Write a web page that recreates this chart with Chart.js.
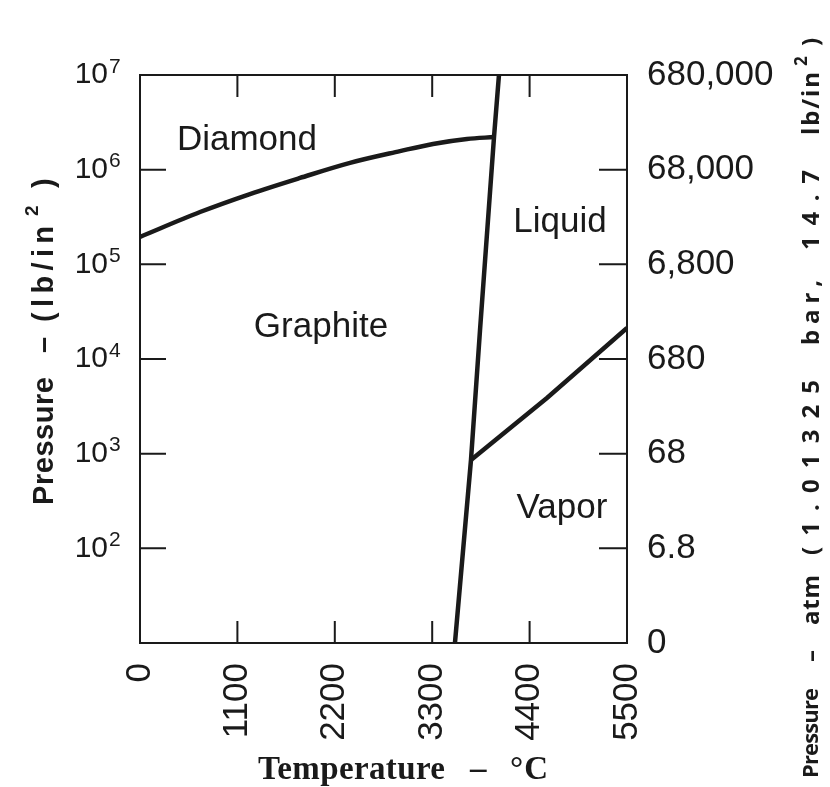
<!DOCTYPE html>
<html>
<head>
<meta charset="utf-8">
<script src="https://cdn.jsdelivr.net/npm/chart.js@4.4.1/dist/chart.umd.min.js"></script>
<style>
  html, body { margin: 0; background: #fff; }
  canvas { display: block; }
</style>
</head>
<body>
<canvas id="myChart" width="830" height="787"></canvas>
<script>
// axis ticks
const tempTicks = [0, 1100, 2200, 3300, 4400, 5500];
const psiTicks = [10, 100, 1000, 10000, 100000, 1000000, 10000000];
const psiExponents = ["", "2", "3", "4", "5", "6", "7"];
const atmLabels = ["0", "6.8", "68", "680", "6,800", "68,000", "680,000"];

// diamond / graphite boundary (°C, lb/in²)
const diamondT = [0, 678, 1242, 1807, 2372, 2936, 3309, 3693, 3998];
const diamondP = [1.95e5, 3.57e5, 5.53e5, 8.17e5, 1.18e6, 1.57e6, 1.87e6, 2.11e6, 2.21e6];

// graphite / liquid melting line
const meltT = [3557, 3738, 3840, 3998, 4054];
const meltP = [10, 857, 2.02e4, 2.21e6, 1e7];

// liquid / vapor line
const vaporT = [3738, 4596, 5500];
const vaporP = [857, 3.87e3, 2.13e4];

// phase region names
const regionNames = ["Diamond", "Graphite", "Liquid", "Vapor"];
const regionT = [1208, 2044, 4743, 4766];
const regionP = [2.06e6, 2.18e4, 2.8e5, 267];

const ink = "#1a1a1a";
const sans = '"Liberation Sans", Arial, sans-serif';

function toPoints(xs, ys) {
  return xs.map((x, i) => ({ x, y: ys[i] }));
}

// lay a piece of text between two pixel positions by stretching its letter spacing
function spreadText(ctx, text, from, to, across, vertical) {
  ctx.letterSpacing = "0px";
  const natural = ctx.measureText(text).width;
  const n = text.length;
  const spacing = n > 1 ? (Math.abs(to - from) - natural) / (n - 1) : 0;
  ctx.save();
  ctx.letterSpacing = spacing + "px";
  ctx.textAlign = "left";
  ctx.textBaseline = "middle";
  if (vertical) {
    ctx.translate(across, from);
    ctx.rotate(-Math.PI / 2);
    ctx.fillText(text, 0, 0);
  } else {
    ctx.fillText(text, from, across);
  }
  ctx.restore();
  ctx.letterSpacing = "0px";
}

const innerTicks = {
  id: "innerTicks",
  afterDatasetsDraw(chart) {
    const { ctx, chartArea: a, scales: { x, y } } = chart;
    ctx.save();
    ctx.strokeStyle = ink;
    ctx.lineWidth = 2;
    ctx.beginPath();
    tempTicks.slice(1, -1).forEach(t => {
      const px = x.getPixelForValue(t);
      ctx.moveTo(px, a.bottom); ctx.lineTo(px, a.bottom - 22);
      ctx.moveTo(px, a.top); ctx.lineTo(px, a.top + 22);
    });
    psiTicks.slice(1, -1).forEach(p => {
      const py = y.getPixelForValue(p);
      ctx.moveTo(a.left, py); ctx.lineTo(a.left + 26, py);
      ctx.moveTo(a.right, py); ctx.lineTo(a.right - 28, py);
    });
    ctx.stroke();
    ctx.restore();
  }
};

const labelsAndTitles = {
  id: "labelsAndTitles",
  afterDraw(chart) {
    const { ctx, scales: { x, y } } = chart;
    ctx.save();
    ctx.fillStyle = ink;
    ctx.textBaseline = "middle";

    // powers of ten on the left axis
    psiTicks.forEach((p, i) => {
      if (!psiExponents[i]) return;
      const py = y.getPixelForValue(p);
      ctx.font = "30px " + sans;
      ctx.textAlign = "right";
      ctx.fillText("10", 108, py);
      ctx.font = "21px " + sans;
      ctx.textAlign = "left";
      ctx.fillText(psiExponents[i], 109, py - 8);
    });

    ctx.font = "35px " + sans;
    ctx.textAlign = "center";
    regionNames.forEach((name, i) => {
      ctx.fillText(name, x.getPixelForValue(regionT[i]), y.getPixelForValue(regionP[i]));
    });

    ctx.font = "bold 29px " + sans;
    spreadText(ctx, "Pressure", 505, 377, 45, true);
    spreadText(ctx, "–", 353, 337, 45, true);
    spreadText(ctx, "(lb/in", 322, 226, 45, true);
    spreadText(ctx, ")", 188, 176, 45, true);
    ctx.font = "bold 19px " + sans;
    spreadText(ctx, "2", 216, 206, 33, true);

    ctx.font = 'bold 33px "Liberation Serif", "Times New Roman", serif';
    spreadText(ctx, "Temperature", 258, 445, 770, false);
    spreadText(ctx, "–", 470, 488, 770, false);
    spreadText(ctx, "°C", 510, 548, 770, false);

    ctx.font = 'bold 22px "Open Sans", sans-serif';
    spreadText(ctx, "Pressure", 778, 688, 812, true);
    ctx.font = 'bold 24px "Open Sans", sans-serif';
    spreadText(ctx, "–", 662, 650, 812, true);
    spreadText(ctx, "atm", 625, 575, 812, true);
    spreadText(ctx, "(1.01325", 555, 380, 812, true);
    spreadText(ctx, "bar,", 345, 280, 812, true);
    spreadText(ctx, "14.7", 250, 170, 812, true);
    spreadText(ctx, "lb/in", 135, 72, 812, true);
    spreadText(ctx, ")", 46, 34, 812, true);
    ctx.font = 'bold 17px "Open Sans", sans-serif';
    spreadText(ctx, "2", 66, 56, 802, true);
    ctx.restore();
  }
};

const lineStyle = {
  borderColor: ink,
  borderWidth: 4.5,
  pointRadius: 0,
  fill: false
};

const border = { display: true, color: ink, width: 2 };

new Chart(document.getElementById("myChart"), {
  type: "line",
  data: {
    datasets: [
      { ...lineStyle, label: "Diamond–graphite", data: toPoints(diamondT, diamondP), cubicInterpolationMode: "monotone" },
      { ...lineStyle, label: "Melting", data: toPoints(meltT, meltP) },
      { ...lineStyle, label: "Vaporization", data: toPoints(vaporT, vaporP) }
    ]
  },
  options: {
    responsive: false,
    animation: false,
    layout: { padding: 0 },
    plugins: { legend: { display: false }, tooltip: { enabled: false } },
    scales: {
      x: {
        type: "linear",
        position: "bottom",
        min: 0,
        max: 5500,
        afterBuildTicks: s => { s.ticks = tempTicks.map(v => ({ value: v })); },
        afterFit: s => { s.height = 144; },
        grid: { display: false },
        border,
        ticks: {
          callback: v => String(v),
          minRotation: 90,
          maxRotation: 90,
          padding: 12,
          color: ink,
          font: { family: sans, size: 35 }
        }
      },
      x2: {
        type: "linear",
        position: "top",
        min: 0,
        max: 5500,
        afterFit: s => { s.height = 75; },
        grid: { display: false },
        border,
        ticks: { display: false }
      },
      y: {
        type: "logarithmic",
        position: "left",
        min: 10,
        max: 1e7,
        afterBuildTicks: s => { s.ticks = psiTicks.map(v => ({ value: v })); },
        afterFit: s => { s.width = 140; },
        grid: { display: false },
        border,
        ticks: { display: false }
      },
      y2: {
        type: "logarithmic",
        position: "right",
        min: 10,
        max: 1e7,
        afterBuildTicks: s => { s.ticks = psiTicks.map(v => ({ value: v })); },
        afterFit: s => { s.width = 203; },
        grid: { display: false },
        border,
        ticks: {
          callback: (v, i) => atmLabels[i],
          padding: 12,
          color: ink,
          font: { family: sans, size: 35 }
        }
      }
    }
  },
  plugins: [innerTicks, labelsAndTitles]
});
</script>
</body>
</html>
